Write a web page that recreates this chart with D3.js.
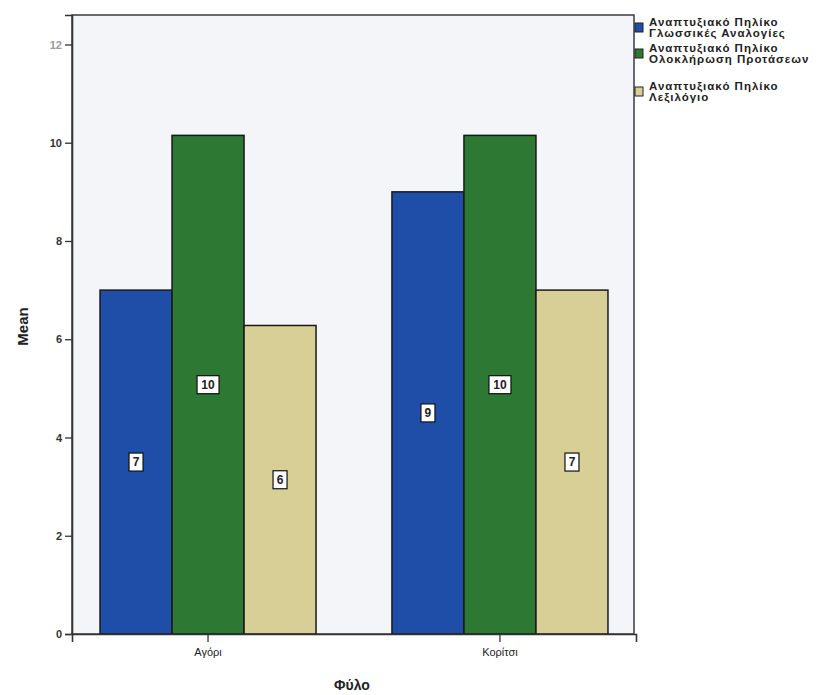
<!DOCTYPE html>
<html>
<head>
<meta charset="utf-8">
<script src="https://cdn.jsdelivr.net/npm/d3@7"></script>
<style>
  html, body { margin: 0; padding: 0; background: #fff; }
  svg { display: block; font-family: "Liberation Sans", Arial, sans-serif; }
</style>
</head>
<body>
<svg id="chart" width="820" height="695"></svg>
<script>
// Mean developmental quotient by sex
const categories = ["Αγόρι", "Κορίτσι"];
const seriesNames = [
  ["Αναπτυξιακό Πηλίκο", "Γλωσσικές Αναλογίες"],
  ["Αναπτυξιακό Πηλίκο", "Ολοκλήρωση Προτάσεων"],
  ["Αναπτυξιακό Πηλίκο", "Λεξιλόγιο"]
];
const glossikes = [7.0, 9.0];
const oloklirosi = [10.15, 10.15];
const lexilogio = [6.28, 7.0];
const yTicks = [0, 2, 4, 6, 8, 10, 12];
const seriesColors = ["#1f4ea8", "#2d7832", "#d8cf96"];

const series = [glossikes, oloklirosi, lexilogio];
const svg = d3.select("#chart");

const plot = { left: 72, right: 634, top: 15, bottom: 634 };

const x0 = d3.scaleBand()
  .domain(categories)
  .range([plot.left, plot.right + 2])
  .paddingInner(0.26)
  .paddingOuter(0.096);

const x1 = d3.scaleBand()
  .domain(d3.range(series.length))
  .range([0, x0.bandwidth()]);

const y = d3.scaleLinear()
  .domain([0, 12.6])
  .range([plot.bottom, plot.top]);

// plot background and frame
svg.append("rect")
  .attr("x", plot.left).attr("y", plot.top)
  .attr("width", plot.right - plot.left)
  .attr("height", plot.bottom - plot.top)
  .attr("fill", "#f4f5f8")
  .attr("stroke", "#3a3a44")
  .attr("stroke-width", 1.5);

// bars
const groups = svg.append("g").selectAll("g")
  .data(categories)
  .join("g")
  .attr("transform", d => `translate(${x0(d)},0)`);

groups.selectAll("rect")
  .data((c, ci) => series.map((s, si) => ({ si, v: s[ci] })))
  .join("rect")
  .attr("x", d => x1(d.si))
  .attr("y", d => y(d.v))
  .attr("width", x1.bandwidth())
  .attr("height", d => y(0) - y(d.v))
  .attr("fill", d => seriesColors[d.si])
  .attr("stroke", "#1a1a1a")
  .attr("stroke-width", 1.5);

// value labels in boxes at mid-height
const fmt = d3.format(".0f");
const lab = groups.selectAll("g.lab")
  .data((c, ci) => series.map((s, si) => ({ si, v: s[ci] })))
  .join("g")
  .attr("class", "lab")
  .attr("transform", d => `translate(${x1(d.si) + x1.bandwidth() / 2},${(y(d.v) + y(0)) / 2})`);

lab.append("rect")
  .attr("x", d => fmt(d.v).length > 1 ? -11 : -7)
  .attr("y", -9)
  .attr("width", d => fmt(d.v).length > 1 ? 22 : 14)
  .attr("height", 18)
  .attr("fill", "#fff")
  .attr("stroke", "#111")
  .attr("stroke-width", 1.2);

lab.append("text")
  .attr("text-anchor", "middle")
  .attr("dy", "0.36em")
  .attr("font-size", 12)
  .attr("font-weight", "bold")
  .attr("fill", "#222")
  .text(d => fmt(d.v));

// y axis
const yAxis = svg.append("g")
  .attr("transform", `translate(${plot.left},0)`)
  .call(d3.axisLeft(y).tickValues(yTicks).tickSize(7).tickPadding(3).tickFormat(d3.format("d")));
yAxis.select(".domain").attr("stroke", "#333").attr("stroke-width", 1.6);
yAxis.selectAll(".tick line").attr("stroke", "#333").attr("stroke-width", 1.3);
yAxis.selectAll(".tick text")
  .attr("font-size", 11)
  .attr("font-weight", "bold")
  .attr("font-family", "Liberation Sans, Arial, sans-serif")
  .attr("fill", d => d === 12 ? "#9a9aa0" : "#333");

// x axis
const xAxis = svg.append("g")
  .attr("transform", `translate(0,${plot.bottom})`)
  .call(d3.axisBottom(x0).tickSize(8).tickPadding(6));
xAxis.select(".domain").attr("stroke", "#333").attr("stroke-width", 1.6);
xAxis.selectAll(".tick line").attr("stroke", "#333").attr("stroke-width", 1.3);
xAxis.selectAll(".tick text")
  .attr("font-size", 11)
  .attr("font-family", "Liberation Sans, Arial, sans-serif")
  .attr("fill", "#222");

// axis titles
svg.append("text")
  .attr("transform", `translate(28,${(plot.top + plot.bottom) / 2 + 2}) rotate(-90)`)
  .attr("text-anchor", "middle")
  .attr("font-size", 15)
  .attr("font-weight", "bold")
  .attr("fill", "#222")
  .text("Mean");

svg.append("text")
  .attr("x", 352).attr("y", 690)
  .attr("text-anchor", "middle")
  .attr("font-size", 14)
  .attr("font-weight", "bold")
  .attr("fill", "#222")
  .text("Φύλο");

// legend
const legendY = [17, 43, 81];
const legend = svg.append("g").selectAll("g")
  .data(seriesNames)
  .join("g")
  .attr("transform", (d, i) => `translate(634,${legendY[i]})`);

legend.append("rect")
  .attr("x", 1).attr("y", 6)
  .attr("width", 8).attr("height", 9)
  .attr("fill", (d, i) => seriesColors[i])
  .attr("stroke", "#222")
  .attr("stroke-width", 1);

legend.append("text")
  .attr("font-size", 11.5)
  .attr("font-weight", "bold")
  .attr("fill", "#222")
  .attr("letter-spacing", 1.0)
  .selectAll("tspan")
  .data(d => d)
  .join("tspan")
  .attr("x", 15)
  .attr("y", (d, i) => 9 + i * 10.5)
  .text(d => d);
</script>
</body>
</html>
